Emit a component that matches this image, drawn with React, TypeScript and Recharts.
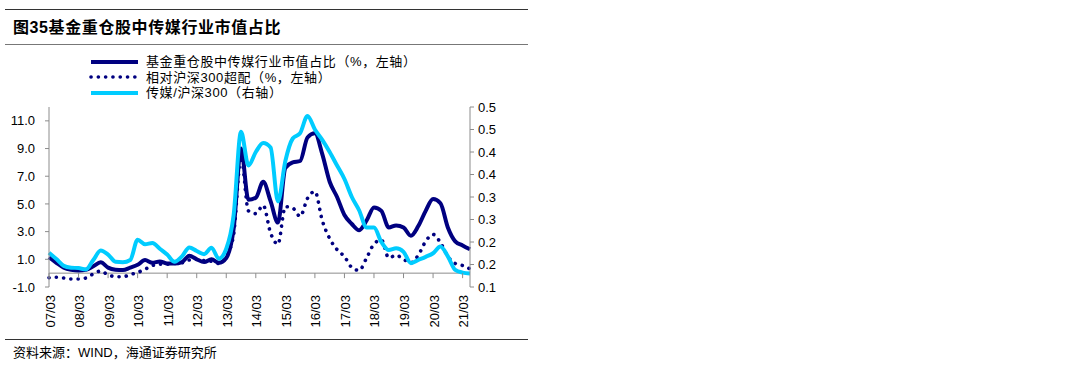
import React from 'react';
import { LineChart, Line, XAxis, YAxis, ReferenceLine, Legend } from 'recharts';

const categories = [
  '07/03', '07/06', '07/09', '07/12', '08/03', '08/06', '08/09', '08/12',
  '09/03', '09/06', '09/09', '09/12', '10/03', '10/06', '10/09', '10/12',
  '11/03', '11/06', '11/09', '11/12', '12/03', '12/06', '12/09', '12/12',
  '13/03', '13/06', '13/09', '13/12', '14/03', '14/06', '14/09', '14/12',
  '15/03', '15/06', '15/09', '15/12', '16/03', '16/06', '16/09', '16/12',
  '17/03', '17/06', '17/09', '17/12', '18/03', '18/06', '18/09', '18/12',
  '19/03', '19/06', '19/09', '19/12', '20/03', '20/06', '20/09', '20/12',
  '21/03', '21/06',
];

// 基金重仓股中传媒行业市值占比（%，左轴）
const fundHoldingShare = [
  1.15, 0.75, 0.4, 0.25, 0.2, 0.25, 0.5, 0.78,
  0.4, 0.25, 0.22, 0.4, 0.6, 0.95, 0.75, 0.85,
  0.7, 0.7, 0.8, 1.25, 1.0, 0.8, 1.0, 0.75,
  1.1, 3.2, 9.0, 5.3, 5.45, 6.6, 5.2, 3.65,
  7.6, 8.0, 8.1, 9.8, 10.1, 8.6, 6.6, 5.5,
  4.2, 3.55, 3.1, 3.8, 4.75, 4.5, 3.3, 3.45,
  3.3, 2.7, 3.4, 4.5, 5.35, 5.05, 3.3, 2.3,
  2.0, 1.72,
];

// 相对沪深300超配（%，左轴）
const overweightVsHS300 = [
  -0.33, -0.3, -0.35, -0.42, -0.42, -0.35, -0.05, 0.15,
  -0.12, -0.25, -0.26, -0.1, 0.05, 0.28, 0.55, 0.65,
  0.65, 0.7, 0.75, 0.95, 1.0, 0.9, 0.85, 0.7,
  1.2, 2.8, 8.4, 4.5, 4.3, 4.9, 2.9, 2.1,
  4.8, 4.7, 4.1, 5.4, 5.9, 3.8, 2.5, 1.7,
  1.2, 0.4, 0.2, 1.1, 2.1, 2.4, 1.1, 1.3,
  1.0, 0.75, 1.3, 2.3, 2.8, 2.2, 1.2, 0.7,
  0.55, 0.3,
];

// 传媒/沪深300（右轴）
const mediaVsHS300 = [
  0.176, 0.162, 0.147, 0.143, 0.142, 0.139, 0.16, 0.181,
  0.172, 0.156, 0.155, 0.16, 0.205, 0.195, 0.198, 0.185,
  0.172, 0.156, 0.168, 0.188, 0.18, 0.173, 0.187, 0.163,
  0.185, 0.26, 0.445, 0.37, 0.4, 0.42, 0.41, 0.29,
  0.38, 0.43, 0.442, 0.48, 0.45, 0.427, 0.4, 0.37,
  0.34, 0.3, 0.27, 0.232, 0.232, 0.2, 0.182, 0.186,
  0.178, 0.153, 0.16, 0.167, 0.175, 0.19, 0.168, 0.138,
  0.132, 0.13,
];

const seriesNames = [
  '基金重仓股中传媒行业市值占比（%，左轴）',
  '相对沪深300超配（%，左轴）',
  '传媒/沪深300（右轴）',
];

const leftTicks = [-1, 1, 3, 5, 7, 9, 11];
const leftDomain = [-1, 12];
const rightTicks = [0.1, 0.15, 0.2, 0.25, 0.3, 0.35, 0.4, 0.45, 0.5];
const rightTickLabels = ['0.1', '0.2', '0.2', '0.3', '0.3', '0.4', '0.4', '0.5', '0.5'];
const rightDomain = [0.1, 0.5];

const title = '基金重仓股中传媒行业市值占比';
const titleNo = '图35';
const source = '资料来源：WIND，海通证券研究所';

const data = categories.map((cat, i) => ({
  cat,
  share: fundHoldingShare[i],
  over: overweightVsHS300[i],
  ratio: mediaVsHS300[i],
}));

const NAVY = '#000080';
const CYAN = '#00CCFF';
const AXIS = '#8c8c8c';
const LATIN = "'Liberation Sans', Arial, 'Noto Sans CJK SC', sans-serif";
const CJK = "'Liberation Sans', 'Noto Sans CJK SC', sans-serif";

const PLOT_TOP = 107;
const PLOT_H = 180;
// distance from bottom of plot to the value-0 line on left axis
const ZERO_OFFSET = (PLOT_H * (0 - leftDomain[0])) / (leftDomain[1] - leftDomain[0]);

const XTick = (props: any) => {
  const { x, y, payload } = props;
  const tx = x + 1;
  const ty = y + 8;
  return (
    <g>
      <line x1={x} x2={x} y1={y - ZERO_OFFSET} y2={y - ZERO_OFFSET + 5} stroke={AXIS} strokeWidth={1} />
      <text
        x={tx}
        y={ty}
        transform={`rotate(-90 ${tx} ${ty})`}
        textAnchor="end"
        dominantBaseline="central"
        fontSize={13}
        fill="#000"
        fontFamily={LATIN}
      >
        {payload.value}
      </text>
    </g>
  );
};

const LegendContent = () => {
  const styles = [
    { color: NAVY, width: 4, dash: undefined as string | undefined },
    { color: NAVY, width: 3.6, dash: '0.1 7.2' },
    { color: CYAN, width: 4, dash: undefined as string | undefined },
  ];
  return (
    <div style={{ display: 'flex', flexDirection: 'column' }}>
      {seriesNames.map((name, i) => (
        <div key={name} style={{ display: 'flex', alignItems: 'center', height: 15.5 }}>
          <svg width={52} height={10} style={{ display: 'block' }}>
            <line
              x1={3}
              x2={50}
              y1={5}
              y2={5}
              stroke={styles[i].color}
              strokeWidth={styles[i].width}
              strokeDasharray={styles[i].dash}
              strokeLinecap={styles[i].dash ? 'round' : 'butt'}
            />
          </svg>
          <span
            style={{
              marginLeft: 6,
              fontSize: 13,
              lineHeight: '15px',
              color: '#000',
              fontFamily: CJK,
              whiteSpace: 'nowrap',
              letterSpacing: 0.6,
            }}
          >
            {name}
          </span>
        </div>
      ))}
    </div>
  );
};

export default function App() {
  return (
    <div
      style={{
        position: 'absolute',
        left: 0,
        top: 0,
        width: 1080,
        height: 369,
        background: '#fff',
        overflow: 'hidden',
      }}
    >
      <div style={{ position: 'absolute', left: 5, top: 9, width: 523, height: 0, borderTop: '1.5px solid #333' }} />
      <div
        style={{
          position: 'absolute',
          left: 13,
          top: 18,
          fontSize: 16,
          fontWeight: 'bold',
          fontFamily: CJK,
          color: '#000',
          whiteSpace: 'nowrap',
          lineHeight: '20px',
          letterSpacing: 0.6,
        }}
      >
        {titleNo}
        {title}
      </div>
      <div style={{ position: 'absolute', left: 5, top: 44, width: 523, height: 0, borderTop: '1px solid #777' }} />

      <div style={{ position: 'absolute', left: 0, top: 0 }}>
        <LineChart
          width={530}
          height={340}
          data={data}
          margin={{ top: PLOT_TOP, right: 0, bottom: 13, left: 0 }}
        >
          <XAxis
            dataKey="cat"
            interval={3}
            axisLine={false}
            tickLine={false}
            tickSize={0}
            tickMargin={0}
            height={40}
            tick={<XTick />}
          />
          <YAxis
            yAxisId="left"
            domain={leftDomain}
            ticks={leftTicks}
            width={49}
            tickFormatter={(v: number) => v.toFixed(1)}
            axisLine={{ stroke: AXIS }}
            tickLine={{ stroke: AXIS }}
            tickSize={4}
            tickMargin={10}
            tick={{ fontSize: 13, fill: '#000', fontFamily: LATIN }}
            allowDataOverflow
          />
          <YAxis
            yAxisId="right"
            orientation="right"
            domain={rightDomain}
            ticks={rightTicks}
            width={60}
            tickFormatter={(v: number) => {
              const k = rightTicks.findIndex((t) => Math.abs(t - v) < 1e-9);
              return k >= 0 ? rightTickLabels[k] : String(v);
            }}
            axisLine={{ stroke: AXIS }}
            tickLine={{ stroke: AXIS }}
            tickSize={4}
            tickMargin={4}
            tick={{ fontSize: 13, fill: '#000', fontFamily: LATIN, textAnchor: 'start' }}
            allowDataOverflow
          />
          <ReferenceLine yAxisId="left" y={0} stroke={AXIS} strokeWidth={1} />
          <Legend
            layout="vertical"
            align="center"
            verticalAlign="middle"
            content={<LegendContent />}
            wrapperStyle={{ position: 'absolute', left: 88, top: 54, width: 380, height: 48 }}
          />
          <Line
            yAxisId="left"
            type="monotone"
            dataKey="share"
            name={seriesNames[0]}
            stroke={NAVY}
            strokeWidth={4}
            dot={false}
            activeDot={false}
            isAnimationActive={false}
          />
          <Line
            yAxisId="left"
            type="monotone"
            dataKey="over"
            name={seriesNames[1]}
            stroke={NAVY}
            strokeWidth={3.6}
            strokeDasharray="0.1 7.2"
            strokeLinecap="round"
            dot={false}
            activeDot={false}
            isAnimationActive={false}
          />
          <Line
            yAxisId="right"
            type="monotone"
            dataKey="ratio"
            name={seriesNames[2]}
            stroke={CYAN}
            strokeWidth={4}
            dot={false}
            activeDot={false}
            isAnimationActive={false}
          />
        </LineChart>
      </div>

      <div style={{ position: 'absolute', left: 5, top: 339, width: 523, height: 0, borderTop: '1.5px solid #333' }} />
      <div
        style={{
          position: 'absolute',
          left: 13,
          top: 345,
          fontSize: 13,
          fontFamily: CJK,
          color: '#000',
          whiteSpace: 'nowrap',
          lineHeight: '16px',
        }}
      >
        {source}
      </div>
    </div>
  );
}
